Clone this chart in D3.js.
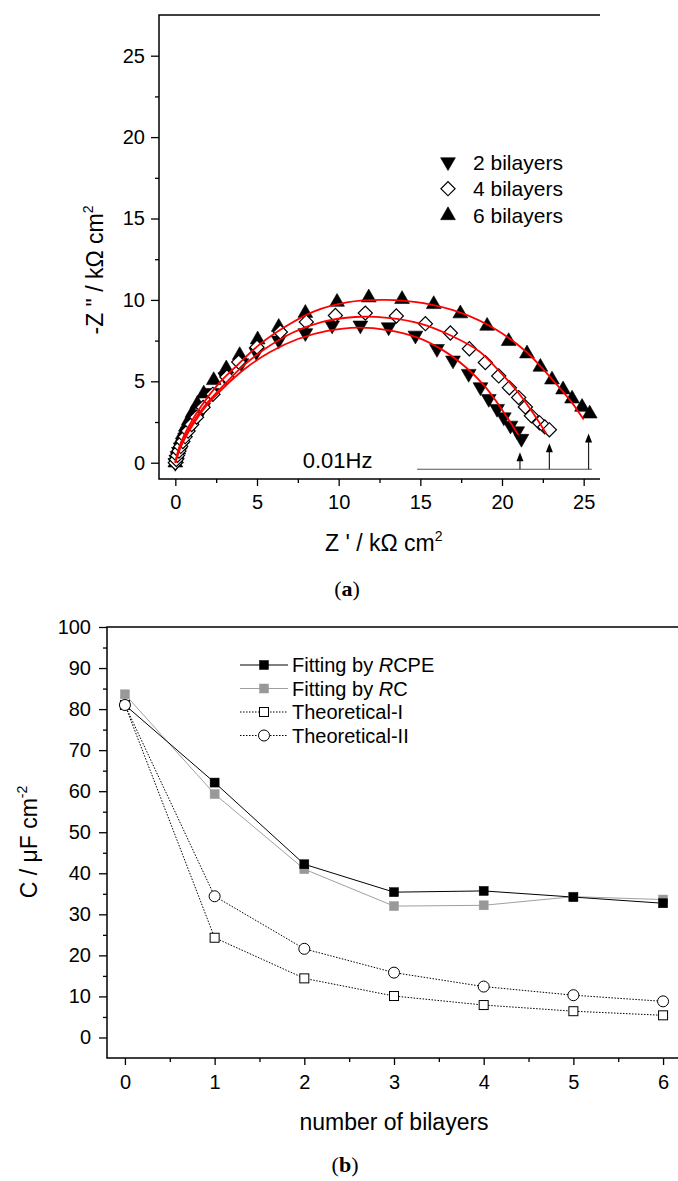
<!DOCTYPE html>
<html>
<head>
<meta charset="utf-8">
<script src="https://cdn.jsdelivr.net/npm/d3@7"></script>
<style>
    html, body { margin: 0; padding: 0; background: #fff; }
    svg { display: block; font-family: "Liberation Sans", Arial, sans-serif; }
</style>
</head>
<body>
<div id="vis"></div>
<script>
'use strict';

//panel (a): Nyquist points, Z' and -Z'' in kOhm cm2, from high frequency (origin) to 0.01 Hz
var bl2Re = [0, 0.06, 0.13, 0.22, 0.33, 0.46, 0.6, 0.78, 1.0, 1.3, 1.7, 2.25, 3.06, 4.04, 4.96, 6.33, 7.96, 9.6, 11.33, 13.06, 14.7, 16.02, 17.0, 17.96, 18.68, 19.19, 19.7, 20.11, 20.52, 20.93, 21.19];
var bl2Im = [0, 0.2, 0.42, 0.68, 0.95, 1.25, 1.55, 1.9, 2.3, 2.75, 3.4, 4.3, 5.26, 6.12, 6.8, 7.52, 7.97, 8.44, 8.44, 8.33, 7.82, 7.0, 6.29, 5.47, 4.65, 3.93, 3.32, 2.8, 2.29, 1.94, 1.48];
var bl4Re = [0, 0.06, 0.13, 0.22, 0.33, 0.46, 0.6, 0.78, 1.0, 1.3, 1.7, 2.3, 3.16, 3.88, 5.0, 6.43, 8.02, 9.8, 11.63, 13.53, 15.31, 16.84, 18.0, 18.98, 19.8, 20.45, 21.02, 21.43, 21.8, 22.3, 22.62, 22.9];
var bl4Im = [0, 0.2, 0.45, 0.72, 1.0, 1.3, 1.6, 1.95, 2.35, 2.8, 3.4, 4.2, 5.26, 6.18, 7.1, 8.03, 8.64, 9.05, 9.19, 9.01, 8.54, 7.97, 7.0, 6.15, 5.33, 4.6, 4.0, 3.42, 2.88, 2.45, 2.2, 2.02];
var bl6Re = [0, 0.05, 0.1, 0.18, 0.27, 0.38, 0.5, 0.65, 0.83, 1.05, 1.35, 1.74, 2.35, 3.12, 3.94, 5.04, 6.33, 7.96, 9.9, 11.84, 13.88, 15.82, 17.45, 19.09, 20.41, 21.53, 22.35, 23.06, 23.74, 24.29, 24.9, 25.37];
var bl6Im = [0, 0.25, 0.5, 0.8, 1.1, 1.45, 1.8, 2.2, 2.6, 3.05, 3.6, 4.24, 5.06, 5.78, 6.6, 7.56, 8.33, 9.19, 9.87, 10.14, 10.04, 9.73, 9.16, 8.4, 7.46, 6.7, 5.88, 5.1, 4.49, 3.93, 3.42, 3.01];

//fitted curves (red)
var fit2Re = [0, 0.35, 1.0, 1.9, 3.0, 4.3, 5.8, 7.5, 9.3, 11.2, 13.0, 14.8, 16.4, 17.8, 18.9, 19.8, 20.5, 21.0];
var fit2Im = [0, 1.0, 2.2, 3.5, 4.65, 5.8, 6.8, 7.6, 8.1, 8.3, 8.15, 7.7, 6.9, 5.85, 4.75, 3.55, 2.5, 1.7];
var fit4Re = [0, 0.3, 0.9, 1.8, 2.9, 4.1, 5.5, 7.2, 9.0, 11.0, 13.0, 15.0, 16.9, 18.6, 19.9, 21.0, 21.9, 22.7];
var fit4Im = [0, 1.0, 2.2, 3.5, 4.7, 5.9, 7.0, 8.0, 8.65, 8.95, 8.9, 8.55, 7.8, 6.85, 5.55, 4.3, 3.05, 1.8];
var fit6Re = [0, 0.25, 0.8, 1.6, 2.6, 3.8, 5.2, 6.8, 8.5, 10.5, 12.8, 15.2, 17.5, 19.6, 21.5, 23.0, 24.2, 25.0];
var fit6Im = [0, 1.0, 2.2, 3.5, 4.8, 6.0, 7.3, 8.4, 9.3, 9.85, 10.0, 9.8, 9.2, 8.2, 6.8, 5.2, 3.8, 2.65];

//0.01 Hz markers
var arrowRe = [21.1, 22.9, 25.3];
var arrowTop = [0.65, 1.2, 1.8];
var arrowBase = -0.4;
var arrowFrom = 14.8;
var arrowTo = 25.5;

var aXTicks = [0, 5, 10, 15, 20, 25];
var aYTicks = [0, 5, 10, 15, 20, 25];
var aLegend = ['2 bilayers', '4 bilayers', '6 bilayers'];

//panel (b): capacitance vs number of bilayers
var nLayers = [0, 1, 2, 3, 4, 5, 6];
var cRCPE = [81, 62.1, 42.2, 35.4, 35.7, 34.2, 32.7];
var cRC = [83.6, 59.3, 41.0, 32.0, 32.2, 34.3, 33.6];
var cTheoI = [81, 24.3, 14.4, 10.1, 7.9, 6.4, 5.4];
var cTheoII = [81, 34.4, 21.6, 15.8, 12.4, 10.3, 8.8];
var bXTicks = [0, 1, 2, 3, 4, 5, 6];
var bYTicks = [0, 10, 20, 30, 40, 50, 60, 70, 80, 90, 100];

var W = 678, H = 1181;
var font = '"Liberation Sans", Arial, sans-serif';
var tickFont = 20;
var svg = d3.select('#vis').append('svg').attr('width', W).attr('height', H);

function zip(a, b) {
    return a.map(function (v, i) { return [v, b[i]]; });
}

function styleAxis(g) {
    g.select('.domain').remove();
    g.selectAll('line').attr('stroke', '#000').attr('stroke-width', 1.3);
    g.selectAll('text').attr('fill', '#000').attr('font-size', tickFont).attr('font-family', font);
}

function drawAxes(x, y, xMajor, xMinor, yMajor, yMinor, xPad, yPad) {
    var x0 = x.range()[0], x1 = x.range()[1];
    var y0 = y.range()[0], y1 = y.range()[1];
    svg.append('g').attr('transform', 'translate(0,' + y0 + ')')
        .call(d3.axisBottom(x).tickValues(xMinor).tickSize(4).tickSizeOuter(0).tickFormat(''))
        .call(styleAxis);
    svg.append('g').attr('transform', 'translate(0,' + y0 + ')')
        .call(d3.axisBottom(x).tickValues(xMajor).tickSize(7).tickSizeOuter(0)
            .tickPadding(xPad).tickFormat(d3.format('d')))
        .call(styleAxis);
    svg.append('g').attr('transform', 'translate(' + x0 + ',0)')
        .call(d3.axisLeft(y).tickValues(yMinor).tickSize(4).tickSizeOuter(0).tickFormat(''))
        .call(styleAxis);
    svg.append('g').attr('transform', 'translate(' + x0 + ',0)')
        .call(d3.axisLeft(y).tickValues(yMajor).tickSize(8).tickSizeOuter(0)
            .tickPadding(yPad).tickFormat(d3.format('d')))
        .call(styleAxis);
    //frame: bottom, left, top
    svg.append('path')
        .attr('d', 'M' + x1 + ',' + y0 + 'H' + x0 + 'V' + y1 + 'H' + x1)
        .attr('fill', 'none').attr('stroke', '#000').attr('stroke-width', 1.5);
}

function range(a, b, s) {
    return d3.range(a, b + 1e-9, s);
}

// ---------------- panel (a) ----------------
var ax = d3.scaleLinear().domain([-1, 26]).range([159, 600]);
var ay = d3.scaleLinear().domain([-1, 27.5]).range([479, 15]);

drawAxes(ax, ay, aXTicks, range(2.5, 22.5, 5), aYTicks, range(2.5, 22.5, 5), 9, 6);

var triPath = d3.symbol().type(d3.symbolTriangle).size(95)();
var diaPath = d3.symbol().type(d3.symbolSquare).size(100)();

var gA = svg.append('g');

//0.01 Hz arrows
gA.append('line')
    .attr('x1', ax(arrowFrom)).attr('x2', ax(arrowTo))
    .attr('y1', ay(arrowBase)).attr('y2', ay(arrowBase))
    .attr('stroke', '#555').attr('stroke-width', 1.2);
arrowRe.forEach(function (v, i) {
    gA.append('line')
        .attr('x1', ax(v)).attr('x2', ax(v))
        .attr('y1', ay(arrowBase)).attr('y2', ay(arrowTop[i]) + 6)
        .attr('stroke', '#222').attr('stroke-width', 1.2);
    gA.append('path')
        .attr('d', 'M0,0L-3.5,9L3.5,9Z')
        .attr('transform', 'translate(' + ax(v) + ',' + ay(arrowTop[i]) + ')')
        .attr('fill', '#000');
});
gA.append('text')
    .attr('x', ax(7.8)).attr('y', ay(-0.3))
    .attr('font-size', 22).attr('font-family', font)
    .text('0.01Hz');

//data points
function points(re, im, path, rot, fill) {
    gA.append('g').selectAll('path')
        .data(zip(re, im))
        .enter()
        .append('path')
        .attr('d', path)
        .attr('transform', function (d) {
            return 'translate(' + ax(d[0]) + ',' + ay(d[1]) + ') rotate(' + rot + ')';
        })
        .attr('fill', fill)
        .attr('stroke', '#000')
        .attr('stroke-width', fill === '#fff' ? 1.2 : 0.6);
}
points(bl2Re, bl2Im, triPath, 180, '#000');
points(bl6Re, bl6Im, triPath, 0, '#000');
points(bl4Re, bl4Im, diaPath, 45, '#fff');

//fitted curves
var fitLine = d3.line()
    .x(function (d) { return ax(d[0]); })
    .y(function (d) { return ay(d[1]); })
    .curve(d3.curveCatmullRom);
[[fit2Re, fit2Im], [fit4Re, fit4Im], [fit6Re, fit6Im]].forEach(function (f) {
    gA.append('path')
        .attr('d', fitLine(zip(f[0], f[1])))
        .attr('fill', 'none')
        .attr('stroke', '#f00')
        .attr('stroke-width', 1.8);
});

//legend (a)
var legA = svg.append('g').attr('transform', 'translate(448,162)');
var legSym = [[triPath, 180, '#000'], [diaPath, 45, '#fff'], [triPath, 0, '#000']];
aLegend.forEach(function (t, i) {
    legA.append('path')
        .attr('d', legSym[i][0])
        .attr('transform', 'translate(0,' + (i * 26.7) + ') rotate(' + legSym[i][1] + ')')
        .attr('fill', legSym[i][2])
        .attr('stroke', '#000')
        .attr('stroke-width', legSym[i][2] === '#fff' ? 1.2 : 0.6);
    legA.append('text')
        .attr('x', 25).attr('y', i * 26.7 + 7.5)
        .attr('font-size', 21).attr('font-family', font)
        .text(t);
});

//axis titles (a)
var tA = svg.append('text')
    .attr('x', 325).attr('y', 551)
    .attr('font-size', 23).attr('font-family', font);
tA.append('tspan').text('Z \' / k\u03A9 cm');
tA.append('tspan').attr('font-size', 14).attr('dy', -10).text('2');

var tAy = svg.append('text')
    .attr('transform', 'translate(103,270) rotate(-90)')
    .attr('text-anchor', 'middle')
    .attr('font-size', 23).attr('font-family', font);
tAy.append('tspan').text('-Z " / k\u03A9 cm');
tAy.append('tspan').attr('font-size', 14).attr('dy', -10).text('2');

var capA = svg.append('text')
    .attr('x', 347).attr('y', 596)
    .attr('text-anchor', 'middle')
    .attr('font-size', 22).attr('font-family', '"Liberation Serif", "DejaVu Serif", serif');
capA.append('tspan').text('(');
capA.append('tspan').attr('font-weight', 'bold').text('a');
capA.append('tspan').text(')');

// ---------------- panel (b) ----------------
var bx = d3.scaleLinear().domain([-0.2, 6.2]).range([107, 681]);
var by = d3.scaleLinear().domain([-5, 100]).range([1058, 627]);

drawAxes(bx, by, bXTicks, range(0.5, 5.5, 1), bYTicks, range(5, 95, 10), 10, 8);

var gB = svg.append('g');
var line = d3.line()
    .x(function (d) { return bx(d[0]); })
    .y(function (d) { return by(d[1]); });

var seriesB = [
    { vals: cTheoI, stroke: '#000', dash: '1.5,1.5', sym: 'square', fill: '#fff' },
    { vals: cTheoII, stroke: '#000', dash: '1.5,1.5', sym: 'circle', fill: '#fff' },
    { vals: cRC, stroke: '#a0a0a0', dash: null, sym: 'square', fill: '#999' },
    { vals: cRCPE, stroke: '#000', dash: null, sym: 'square', fill: '#000' }
];

seriesB.forEach(function (s) {
    gB.append('path')
        .attr('d', line(zip(nLayers, s.vals)))
        .attr('fill', 'none')
        .attr('stroke', s.stroke)
        .attr('stroke-width', 1)
        .attr('stroke-dasharray', s.dash);
});

function marker(g, s, cx, cy) {
    if (s.sym === 'circle') {
        g.append('circle')
            .attr('cx', cx).attr('cy', cy).attr('r', 5.5)
            .attr('fill', s.fill).attr('stroke', '#000').attr('stroke-width', 1);
    } else {
        g.append('rect')
            .attr('x', cx - 4.5).attr('y', cy - 4.5)
            .attr('width', 9).attr('height', 9)
            .attr('fill', s.fill)
            .attr('stroke', s.fill === '#fff' ? '#000' : s.fill)
            .attr('stroke-width', s.fill === '#fff' ? 1 : 0.5);
    }
}

//markers, drawn so that the open markers at n = 0 end on top
[seriesB[2], seriesB[3], seriesB[0], seriesB[1]].forEach(function (s) {
    s.vals.forEach(function (v, i) {
        marker(gB, s, bx(nLayers[i]), by(v));
    });
});

//legend (b)
var legB = svg.append('g').attr('transform', 'translate(240,665)');
var legOrder = [seriesB[3], seriesB[2], seriesB[0], seriesB[1]];
var legText = [['Fitting by ', 'R', 'CPE'], ['Fitting by ', 'R', 'C'], ['Theoretical-I', '', ''], ['Theoretical-II', '', '']];
legOrder.forEach(function (s, i) {
    var yy = i * 23.5;
    legB.append('line')
        .attr('x1', 0).attr('x2', 48)
        .attr('y1', yy).attr('y2', yy)
        .attr('stroke', s.stroke).attr('stroke-width', 1)
        .attr('stroke-dasharray', s.dash);
    marker(legB, s, 24, yy);
    var t = legB.append('text')
        .attr('x', 52).attr('y', yy + 7)
        .attr('font-size', 20).attr('font-family', font);
    t.append('tspan').text(legText[i][0]);
    if (legText[i][1]) {
        t.append('tspan').attr('font-style', 'italic').text(legText[i][1]);
        t.append('tspan').text(legText[i][2]);
    }
});

//axis titles (b)
svg.append('text')
    .attr('x', 394).attr('y', 1130)
    .attr('text-anchor', 'middle')
    .attr('font-size', 23).attr('font-family', font)
    .text('number of bilayers');

var tBy = svg.append('text')
    .attr('transform', 'translate(37,842) rotate(-90)')
    .attr('text-anchor', 'middle')
    .attr('font-size', 23).attr('font-family', font);
tBy.append('tspan').text('C / \u03BCF cm');
tBy.append('tspan').attr('font-size', 14).attr('dy', -10).text('-2');

var capB = svg.append('text')
    .attr('x', 345).attr('y', 1172)
    .attr('text-anchor', 'middle')
    .attr('font-size', 22).attr('font-family', '"Liberation Serif", "DejaVu Serif", serif');
capB.append('tspan').text('(');
capB.append('tspan').attr('font-weight', 'bold').text('b');
capB.append('tspan').text(')');
</script>
</body>
</html>
